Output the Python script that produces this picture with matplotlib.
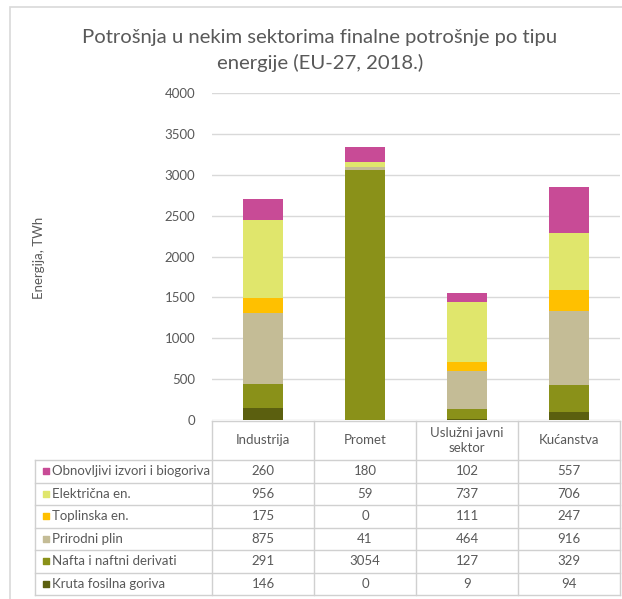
import matplotlib
matplotlib.use("Agg")
import matplotlib.pyplot as plt
from matplotlib.patches import Rectangle
import numpy as np

plt.rcParams['font.family'] = ['Lato', 'DejaVu Sans']

categories = ["Industrija", "Promet", "Uslužni javni\nsektor", "Kućanstva"]
series_names = ["Kruta fosilna goriva", "Nafta i naftni derivati", "Prirodni plin",
                "Toplinska en.", "Električna en.", "Obnovljivi izvori i biogoriva"]
kruta = [146, 0, 9, 94]
nafta = [291, 3054, 127, 329]
plin = [875, 41, 464, 916]
toplinska = [175, 0, 111, 247]
elektricna = [956, 59, 737, 706]
obnovljivi = [260, 180, 102, 557]
colors = ["#5B5F0F", "#8A9119", "#C4BC96", "#FFC000", "#E0E66C", "#C84B96"]
yticks = [0, 500, 1000, 1500, 2000, 2500, 3000, 3500, 4000]

series = [kruta, nafta, plin, toplinska, elektricna, obnovljivi]

W, H = 622, 599
fig = plt.figure(figsize=(W / 100, H / 100), dpi=100)
txt = "#595959"
grid = "#D9D9D9"

def fx(px):
    return px / W

def fy(py):
    return 1 - py / H

# outer chart border
fig.patches.append(Rectangle((fx(10), fy(640)), fx(700), fy(7) - fy(640),
                             transform=fig.transFigure, fill=False,
                             edgecolor="#D9D9D9", linewidth=1.2))

# main plot
ax = fig.add_axes([fx(212), fy(420), fx(620) - fx(212), fy(93) - fy(420)])
x = np.arange(len(categories))
bottom = np.zeros(len(categories))
for vals, col, name in zip(series, colors, series_names):
    ax.bar(x, vals, width=0.4, bottom=bottom, color=col, label=name, zorder=3)
    bottom += np.array(vals)
ax.set_xlim(-0.5, 3.5)
ax.set_ylim(0, 4000)
ax.set_yticks(yticks)
ax.set_yticklabels([str(v) for v in yticks], color=txt, fontsize=9.5)
ax.tick_params(axis="y", length=0, pad=12)
ax.tick_params(axis="x", length=0, labelbottom=False)
ax.yaxis.grid(True, color=grid, linewidth=1, zorder=0)
for s in ax.spines.values():
    s.set_visible(False)

fig.text(fx(39), fy(258), "Energija, TWh", rotation=90, ha="center", va="center",
         color=txt, fontsize=9.5)

fig.text(fx(320), fy(37), "Potrošnja u nekim sektorima finalne potrošnje po tipu",
         ha="center", va="center", color=txt, fontsize=14.6)
fig.text(fx(320), fy(63), "energije (EU-27, 2018.)",
         ha="center", va="center", color=txt, fontsize=14.6)

# data table
lab_w = (212 - 35) / 102.0
hdr_h = (460 - 421) / 22.5
tax = fig.add_axes([fx(35), fy(595), fx(620) - fx(35), fy(421) - fy(595)])
tax.set_xlim(-0.5 - lab_w, 3.5)
tax.set_ylim(6, -hdr_h)
tax.axis("off")
lc = "#D0D0D0"
lw = 1.0
# header row
tax.plot([-0.5, 3.5], [-hdr_h, -hdr_h], color=lc, lw=lw, clip_on=False)
for i in range(len(categories) + 1):
    tax.plot([-0.5 + i, -0.5 + i], [-hdr_h, 6], color=lc, lw=lw, clip_on=False)
tax.plot([-0.5 - lab_w, -0.5 - lab_w], [0, 6], color=lc, lw=lw, clip_on=False)
for r in range(7):
    tax.plot([-0.5 - lab_w, 3.5], [r, r], color=lc, lw=lw, clip_on=False)
for i, c in enumerate(categories):
    tax.text(i, -hdr_h / 2, c, ha="center", va="center", color=txt, fontsize=9.5,
             linespacing=1.3)
rows_order = list(range(len(series)))[::-1]
for r, si in enumerate(rows_order):
    tax.scatter([-0.5 - lab_w + 0.11], [r + 0.5], marker="s", s=20,
                color=colors[si], clip_on=False, zorder=3)
    tax.text(-0.5 - lab_w + 0.17, r + 0.5, series_names[si], ha="left", va="center",
             color=txt, fontsize=9.5)
    for i, v in enumerate(series[si]):
        tax.text(i, r + 0.5, str(v), ha="center", va="center", color=txt, fontsize=9.5)

fig.savefig("out.png", dpi=100, facecolor="white")
